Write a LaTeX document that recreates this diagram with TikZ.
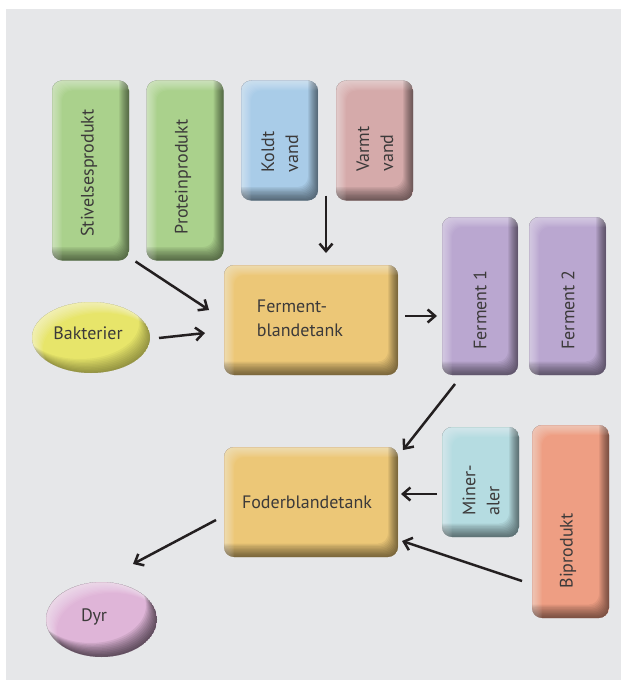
\documentclass[tikz,border=0pt]{standalone}
\usepackage{fontspec}
\setmainfont{PT Sans}
\usetikzlibrary{arrows.meta,calc,shapes.geometric}
\definecolor{bg}{HTML}{E6E7E9}
\definecolor{cgreen}{HTML}{AAD18C}
\definecolor{cblue}{HTML}{A9CCE8}
\definecolor{crose}{HTML}{D5AAAA}
\definecolor{corange}{HTML}{ECC777}
\definecolor{cpurple}{HTML}{BAA7D0}
\definecolor{ccyan}{HTML}{B5DCE1}
\definecolor{csalmon}{HTML}{EE9E83}
\definecolor{cyellow}{HTML}{E7E56A}
\definecolor{cpink}{HTML}{DFB5D8}
\definecolor{txt}{HTML}{3C3A3A}
\definecolor{arrc}{HTML}{231F20}
\tikzset{
  bevel/.style={draw=none, rounded corners=10pt, inner sep=0pt, outer sep=0pt,
    path picture={
      \foreach \k in {1,...,10}{
        \fill[white, opacity=0.055, even odd rule, rounded corners=10pt]
          (path picture bounding box.south west) rectangle (path picture bounding box.north east)
          ([shift={(\k*1.0pt,-\k*1.0pt)}]path picture bounding box.south west) rectangle
          ([shift={(\k*1.0pt,-\k*1.0pt)}]path picture bounding box.north east);
        \fill[black, opacity=0.06, even odd rule, rounded corners=10pt]
          (path picture bounding box.south west) rectangle (path picture bounding box.north east)
          ([shift={(-\k*1.0pt,\k*1.35pt)}]path picture bounding box.south west) rectangle
          ([shift={(-\k*1.0pt,\k*1.35pt)}]path picture bounding box.north east);
      }
    }},
  ebevel/.style n args={3}{shape=ellipse, draw=none, inner sep=0pt, outer sep=0pt,
    path picture={
      \foreach \k in {1,...,10}{
        \fill[white, opacity=0.065, even odd rule]
          (path picture bounding box.center) ellipse [x radius=#1, y radius=#2]
          ([shift={(\k*1.1pt,-\k*1.1pt)}]path picture bounding box.center) ellipse [x radius=#1, y radius=#2];
        \fill[black, opacity=#3, even odd rule]
          (path picture bounding box.center) ellipse [x radius=#1, y radius=#2]
          ([shift={(-\k*1.1pt,\k*1.4pt)}]path picture bounding box.center) ellipse [x radius=#1, y radius=#2];
      }
    }},
  lbl/.style={font=\fontsize{18}{24}\selectfont, text=txt, inner sep=0pt, outer sep=0pt},
  arr/.style={line width=2.5pt, draw=arrc, -{Straight Barb[length=7.5pt,width=13pt]}},
}
\begin{document}
\begin{tikzpicture}[x=1pt,y=-1pt]
\useasboundingbox (0,0) rectangle (621,682);
\fill[bg] (6,9) rectangle (621,680);
% boxes
\node[bevel, fill=cgreen, minimum width=77pt, minimum height=180pt] (stiv) at (90.5,170.5) {};
\node[bevel, fill=cgreen, minimum width=77pt, minimum height=180pt] (prot) at (185,170.5) {};
\node[bevel, fill=cblue, minimum width=77pt, minimum height=120pt] (kold) at (279.5,140.5) {};
\node[bevel, fill=crose, minimum width=77pt, minimum height=120pt] (varm) at (374.5,140.5) {};
\node[bevel, fill=corange, minimum width=174pt, minimum height=110pt] (fbt) at (311,320) {};
\node[ebevel={59pt}{35.5pt}{0.04}, fill=cyellow, minimum width=118pt, minimum height=71pt] (bak) at (91,337.5) {};
\node[bevel, fill=cpurple, minimum width=76pt, minimum height=158pt] (f1) at (480,296) {};
\node[bevel, fill=cpurple, minimum width=77pt, minimum height=158pt] (f2) at (567.5,296) {};
\node[bevel, fill=corange, minimum width=174pt, minimum height=110pt] (fod) at (311,502) {};
\node[bevel, fill=ccyan, minimum width=77pt, minimum height=110pt] (min) at (480.5,482) {};
\node[bevel, fill=csalmon, minimum width=77pt, minimum height=193pt] (bip) at (570.5,521.5) {};
\node[ebevel={55.5pt}{37.5pt}{0.075}, fill=cpink, minimum width=111pt, minimum height=75pt] (dyr) at (101.5,619.5) {};
% labels
\node[lbl, rotate=90] (tstiv) at (89,173) {Stivelsesprodukt};
\node[lbl, rotate=90] (tprot) at (183,177) {Proteinprodukt};
\node[lbl, rotate=90, align=left] (tkold) at (280,152) {Koldt\\vand};
\node[lbl, rotate=90, align=left] (tvarm) at (375,149) {Varmt\\vand};
\node[lbl, align=left] (tfbt) at (300,318) {Ferment-\\blandetank};
\node[lbl] (tbak) at (88,333) {Bakterier};
\node[lbl, rotate=90] (tf1) at (480,310) {Ferment 1};
\node[lbl, rotate=90] (tf2) at (568,310) {Ferment 2};
\node[lbl] (tfod) at (307,502) {Foderblandetank};
\node[lbl, rotate=90, align=left] (tmin) at (481,490) {Miner-\\aler};
\node[lbl, rotate=90] (tbip) at (568,551) {Biprodukt};
\node[lbl] (tdyr) at (94,617) {Dyr};
% arrows
\draw[arr] ($(stiv.south east)+(6.5,1)$) -- ($(fbt.west)+(-15,-10)$);
\draw[arr] ($(bak.east)+(9,0.5)$) -- ($(fbt.west)+(-19,13)$);
\draw[arr] ($(kold.south east)+(8,-5)$) -- ($(fbt.north)+(15,-12)$);
\draw[arr] ($(fbt.east)+(7,-4)$) -- ($(f1.west)+(-5,20)$);
\draw[arr] ($(f1.south)+(-25,9)$) -- ($(fod.north east)+(5,3)$);
\draw[arr] ($(min.west)+(-5,12)$) -- ($(fod.east)+(3,-8)$);
\draw[arr] ($(bip.west)+(-10,59.5)$) -- ($(fod.east)+(4,39)$);
\draw[arr] ($(fod.west)+(-8,18)$) -- ($(dyr.north)+(31.5,-18)$);
\end{tikzpicture}
\end{document}
